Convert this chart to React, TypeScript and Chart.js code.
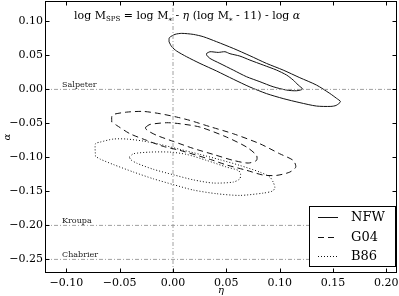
import React, { useEffect, useRef } from 'react';
import { Chart, registerables } from 'chart.js';

Chart.register(...registerables);

// ---- axes ----
const etaRange = [-0.12, 0.21];
const alphaRange = [-0.27, 0.13];
const etaTicks = [-0.1, -0.05, 0, 0.05, 0.1, 0.15, 0.2];
const alphaTicks = [-0.25, -0.2, -0.15, -0.1, -0.05, 0, 0.05, 0.1];

// ---- IMF reference lines ----
const imfAlpha = [0, -0.2, -0.25];
const imfNames = ['Salpeter', 'Kroupa', 'Chabrier'];
const imfLabelEta = -0.104;
const refEta = 0;

// ---- legend ----
const legendLabels = ['NFW', 'G04', 'B86'];

// ---- contours [eta, alpha] ----
const nfwOuter = [
  [-0.0037, 0.070], [-0.0034, 0.076], [0.0019, 0.0809], [0.0081, 0.0824], [0.019, 0.0809],
  [0.0284, 0.0775], [0.0409, 0.0701], [0.0565, 0.0603], [0.0721, 0.0495], [0.0877, 0.0382],
  [0.1033, 0.0284], [0.1189, 0.0172], [0.1345, 0.0064], [0.147, -0.0059], [0.1532, -0.013],
  [0.157, -0.018], [0.153, -0.0235], [0.148, -0.025], [0.1345, -0.0245], [0.119, -0.0195],
  [0.1033, -0.0135], [0.0877, -0.0062], [0.0721, 0.0035], [0.0565, 0.015], [0.0409, 0.027],
  [0.0253, 0.0382], [0.0128, 0.048], [0.0034, 0.0564], [-0.0012, 0.0627], [-0.0037, 0.070],
];
const nfwInner = [
  [0.0315, 0.0529], [0.0346, 0.0554], [0.0424, 0.0544], [0.0487, 0.0554], [0.0534, 0.0525],
  [0.0627, 0.049], [0.0721, 0.0431], [0.0846, 0.0358], [0.0971, 0.0284], [0.1065, 0.0211],
  [0.1127, 0.0137], [0.1174, 0.0064], [0.1214, 0.0005], [0.1158, -0.002], [0.1065, -0.001],
  [0.0939, 0.0039], [0.0815, 0.0113], [0.069, 0.0186], [0.0565, 0.0284], [0.044, 0.0382],
  [0.0346, 0.0456], [0.0315, 0.0505], [0.0315, 0.0529],
];
const g04Outer = [
  [-0.0574, -0.048], [-0.0574, -0.040], [-0.0559, -0.0368], [-0.0434, -0.0334], [-0.0278, -0.0324],
  [-0.0122, -0.0357], [0.0035, -0.0407], [0.0159, -0.0456], [0.035, -0.055], [0.0565, -0.0652],
  [0.0814, -0.0799], [0.1, -0.0946], [0.1127, -0.1044], [0.1151, -0.1142], [0.1095, -0.1216],
  [0.097, -0.1265], [0.0846, -0.126], [0.069, -0.119], [0.05, -0.111], [0.035, -0.103],
  [0.0066, -0.0897], [-0.0091, -0.0838], [-0.0246, -0.075], [-0.0403, -0.0652], [-0.0527, -0.053],
  [-0.0574, -0.048],
];
const g04Inner = [
  [-0.0256, -0.0554], [-0.0215, -0.0515], [-0.0059, -0.049], [0.0066, -0.0505], [0.0253, -0.0554],
  [0.0502, -0.0701], [0.069, -0.0848], [0.0783, -0.097], [0.0783, -0.1044], [0.0705, -0.1083],
  [0.0565, -0.1044], [0.0378, -0.0956], [0.019, -0.0868], [0.0003, -0.0765], [-0.0153, -0.0676],
  [-0.0231, -0.0613], [-0.0256, -0.0578], [-0.0256, -0.0554],
];
const b86Outer = [
  [-0.0727, -0.0985], [-0.0727, -0.0799], [-0.0683, -0.0775], [-0.0559, -0.073], [-0.0434, -0.073],
  [-0.0278, -0.076], [-0.0122, -0.0809], [0.0066, -0.0882], [0.0253, -0.0956], [0.044, -0.1034],
  [0.0627, -0.1118], [0.0814, -0.1216], [0.0908, -0.1289], [0.0939, -0.1363], [0.0955, -0.1446],
  [0.0933, -0.1495], [0.0846, -0.1525], [0.0627, -0.1559], [0.0409, -0.1534], [0.019, -0.148],
  [0.0003, -0.14], [-0.0184, -0.1315], [-0.0371, -0.1215], [-0.0559, -0.1105], [-0.0683, -0.1025],
  [-0.0727, -0.0985],
];
const b86Inner = [
  [-0.0409, -0.0995], [-0.037, -0.0946], [-0.0215, -0.0922], [-0.0028, -0.0922], [0.0128, -0.0956],
  [0.0315, -0.1044], [0.0502, -0.1142], [0.0612, -0.1191], [0.0633, -0.124], [0.0627, -0.1314],
  [0.0565, -0.1363], [0.0378, -0.1377], [0.019, -0.133], [0.0003, -0.1255], [-0.0184, -0.1175],
  [-0.034, -0.1085], [-0.0396, -0.1034], [-0.0409, -0.0995],
];

const SERIF = "'DejaVu Serif', serif";
const DASHES: Record<string, number[]> = { NFW: [], G04: [6, 4], B86: [1, 2] };
const REF_DASH = [4, 2, 1, 2];
const REF_COLOR = '#a0a0a0';

const fmt = (v: number) => {
  const a = Math.abs(v).toFixed(2);
  return v < -1e-9 ? '\u2212' + a : a;
};

const toXY = (arr: number[][]) => arr.map(([x, y]) => ({ x, y }));

const contour = (data: number[][], key: string) => ({
  data: toXY(data),
  showLine: true,
  borderColor: '#111',
  borderWidth: 1,
  borderDash: DASHES[key],
  pointRadius: 0,
  fill: false,
  tension: 0.25,
});

const refLine = (data: number[][]) => ({
  data: toXY(data),
  showLine: true,
  borderColor: REF_COLOR,
  borderWidth: 1,
  borderDash: REF_DASH,
  pointRadius: 0,
  fill: false,
  tension: 0,
});

const zeroPad = (s: any) => {
  s.paddingTop = 0;
  s.paddingBottom = 0;
  s.paddingLeft = 0;
  s.paddingRight = 0;
};

const decor = {
  id: 'decor',
  afterDatasetsDraw(chart: any) {
    const { ctx, chartArea: ca, scales } = chart;
    const xs = scales.x;
    const ys = scales.y;
    ctx.save();
    // IMF labels
    ctx.fillStyle = '#222';
    ctx.font = `8px ${SERIF}`;
    ctx.textAlign = 'left';
    ctx.textBaseline = 'alphabetic';
    imfNames.forEach((n, i) => {
      ctx.fillText(n, xs.getPixelForValue(imfLabelEta), ys.getPixelForValue(imfAlpha[i]) - 2);
    });

    // title formula
    const big = `11px ${SERIF}`;
    const bigIt = `italic 11px ${SERIF}`;
    const small = `7px ${SERIF}`;
    const parts = [
      { t: 'log M', f: big, dy: 0 },
      { t: 'SPS', f: small, dy: 2 },
      { t: ' = log M', f: big, dy: 0 },
      { t: '*', f: small, dy: 4 },
      { t: ' - ', f: big, dy: 0 },
      { t: '\u03b7', f: bigIt, dy: 0 },
      { t: ' (log M', f: big, dy: 0 },
      { t: '*', f: small, dy: 4 },
      { t: ' - 11) - log ', f: big, dy: 0 },
      { t: '\u03b1', f: bigIt, dy: 0 },
    ];
    let tx = 74;
    const ty = 19;
    ctx.fillStyle = '#000';
    parts.forEach((p) => {
      ctx.font = p.f;
      ctx.fillText(p.t, tx, ty + p.dy);
      tx += ctx.measureText(p.t).width;
    });

    // frame
    ctx.strokeStyle = '#000';
    ctx.lineWidth = 1;
    ctx.setLineDash([]);
    const L = Math.round(ca.left) + 0.5;
    const R = Math.round(ca.right) - 0.5;
    const T = Math.round(ca.top) + 0.5;
    const B = Math.round(ca.bottom) - 0.5;
    ctx.strokeRect(L, T, R - L, B - T);

    // inward ticks on all sides
    const tl = 4;
    ctx.beginPath();
    etaTicks.forEach((v) => {
      const px = Math.round(xs.getPixelForValue(v)) + 0.5;
      ctx.moveTo(px, B); ctx.lineTo(px, B - tl);
      ctx.moveTo(px, T); ctx.lineTo(px, T + tl);
    });
    alphaTicks.forEach((v) => {
      const py = Math.round(ys.getPixelForValue(v)) + 0.5;
      ctx.moveTo(L, py); ctx.lineTo(L + tl, py);
      ctx.moveTo(R, py); ctx.lineTo(R - tl, py);
    });
    ctx.stroke();

    // axis labels
    ctx.fillStyle = '#000';
    ctx.font = `italic 10px ${SERIF}`;
    ctx.textAlign = 'center';
    ctx.textBaseline = 'middle';
    ctx.fillText('\u03b7', (ca.left + ca.right) / 2, 290);
    ctx.save();
    ctx.translate(7, (ca.top + ca.bottom) / 2);
    ctx.rotate(-Math.PI / 2);
    ctx.fillText('\u03b1', 0, 0);
    ctx.restore();

    // legend
    const lx = 309.5, ly = 206.5, lw = 86, lh = 60;
    ctx.fillStyle = '#fff';
    ctx.fillRect(lx, ly, lw, lh);
    ctx.strokeStyle = '#000';
    ctx.strokeRect(lx, ly, lw, lh);
    const rowY = [217.5, 237.5, 256.5];
    legendLabels.forEach((lab, i) => {
      ctx.strokeStyle = '#111';
      ctx.setLineDash(DASHES[lab]);
      ctx.beginPath();
      ctx.moveTo(318, rowY[i]);
      ctx.lineTo(338, rowY[i]);
      ctx.stroke();
      ctx.setLineDash([]);
      ctx.fillStyle = '#000';
      ctx.font = `13px ${SERIF}`;
      ctx.textAlign = 'left';
      ctx.textBaseline = 'middle';
      ctx.fillText(lab, 351, rowY[i] + 0.5);
    });
    ctx.restore();
  },
};

export default function App() {
  const ref = useRef<HTMLCanvasElement | null>(null);
  useEffect(() => {
    document.body.style.margin = '0';
    const canvas = ref.current!;
    const datasets: any[] = [
      ...imfAlpha.map((a) => refLine([[etaRange[0], a], [etaRange[1], a]])),
      refLine([[refEta, alphaRange[0]], [refEta, alphaRange[1]]]),
      contour(nfwOuter, 'NFW'),
      contour(nfwInner, 'NFW'),
      contour(g04Outer, 'G04'),
      contour(g04Inner, 'G04'),
      contour(b86Outer, 'B86'),
      contour(b86Inner, 'B86'),
    ];
    const chart = new Chart(canvas, {
      type: 'scatter',
      data: { datasets },
      options: {
        responsive: false,
        maintainAspectRatio: false,
        animation: false,
        layout: { padding: { top: 1, right: 2, left: 0, bottom: 0 } },
        plugins: { legend: { display: false }, tooltip: { enabled: false } },
        scales: {
          x: {
            type: 'linear',
            min: etaRange[0],
            max: etaRange[1],
            afterBuildTicks: (s: any) => { s.ticks = etaTicks.map((v) => ({ value: v })); },
            afterFit: (s: any) => { s.height = 23; zeroPad(s); },
            grid: { display: false, drawTicks: false },
            border: { display: false },
            ticks: {
              font: { family: SERIF, size: 11 },
              color: '#000',
              padding: 4,
              maxRotation: 0,
              autoSkip: false,
              callback: (v: any) => fmt(Number(v)),
            },
          },
          y: {
            type: 'linear',
            min: alphaRange[0],
            max: alphaRange[1],
            afterBuildTicks: (s: any) => { s.ticks = alphaTicks.map((v) => ({ value: v })); },
            afterFit: (s: any) => { s.width = 45; zeroPad(s); },
            grid: { display: false, drawTicks: false },
            border: { display: false },
            ticks: {
              font: { family: SERIF, size: 11 },
              color: '#000',
              padding: 2,
              autoSkip: false,
              callback: (v: any) => fmt(Number(v)),
            },
          },
        },
      },
      plugins: [decor],
    });
    return () => chart.destroy();
  }, []);
  return (
    <div style={{ width: 399, height: 296 }}>
      <canvas ref={ref} width={399} height={296} style={{ display: 'block' }} />
    </div>
  );
}
